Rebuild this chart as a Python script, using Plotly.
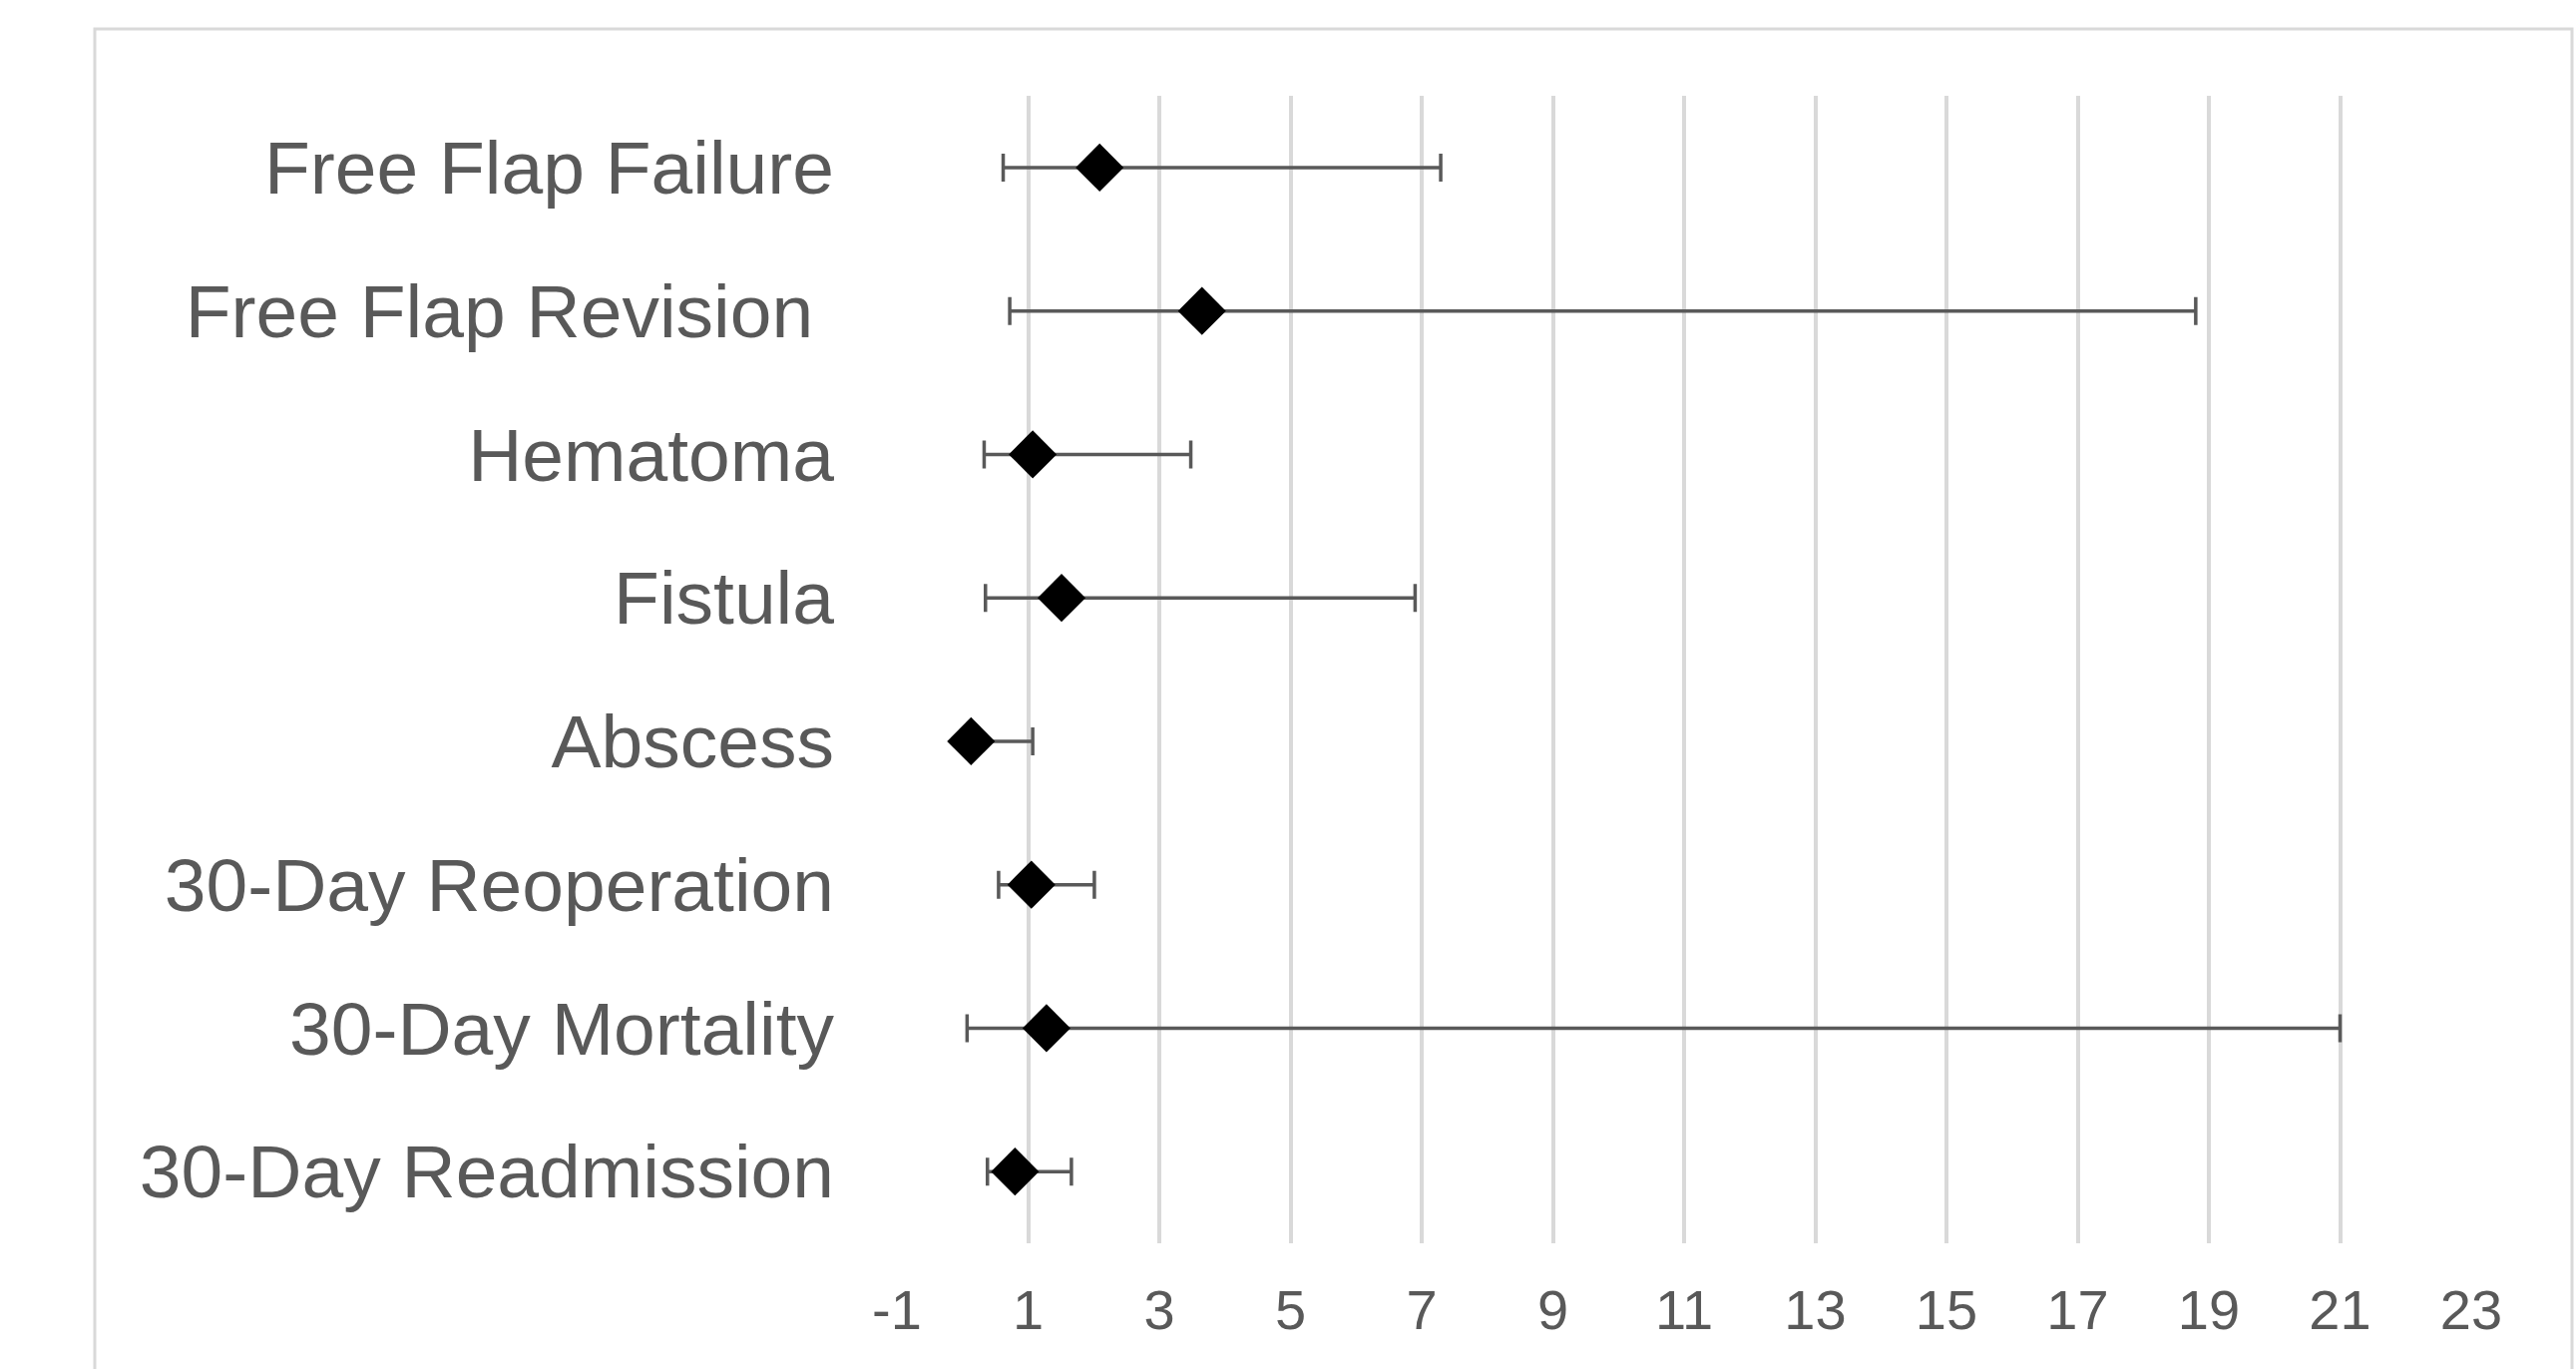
import plotly.graph_objects as go

categories = ["Free Flap Failure", "Free Flap Revision\u00a0", "Hematoma", "Fistula",
              "Abscess", "30-Day Reoperation", "30-Day Mortality", "30-Day Readmission"]
odds_ratio = [2.09, 3.65, 1.07, 1.51, 0.13, 1.05, 1.28, 0.80]
ci_lower = [0.62, 0.72, 0.33, 0.35, 0.05, 0.55, 0.07, 0.38]
ci_upper = [7.29, 18.8, 3.48, 6.90, 1.07, 2.01, 21.0, 1.66]
x_ticks = list(range(-1, 24, 2))

err_plus = [u - o for u, o in zip(ci_upper, odds_ratio)]
err_minus = [o - l for o, l in zip(odds_ratio, ci_lower)]

W, H = 2582, 1372
L, R, T, B = 899, 2477, 96, 1246

fig = go.Figure()
fig.add_trace(go.Scatter(
    x=odds_ratio, y=categories, mode="markers",
    marker=dict(symbol="diamond", size=37, color="black", line=dict(width=0)),
    error_x=dict(type="data", symmetric=False, array=err_plus, arrayminus=err_minus,
                 color="#595959", thickness=3.5, width=14),
    showlegend=False,
))

def px_x(p):
    return (p - L) / (R - L)

def px_y(p):
    return (B - p) / (B - T)

fig.add_shape(type="rect", xref="paper", yref="paper",
              x0=px_x(95), x1=px_x(2578), y0=px_y(1400), y1=px_y(29),
              line=dict(color="#d9d9d9", width=3), fillcolor="rgba(0,0,0,0)", layer="below")

fig.update_layout(
    width=W, height=H,
    margin=dict(l=L, r=W - R, t=T, b=H - B, pad=0),
    paper_bgcolor="white", plot_bgcolor="white",
    font=dict(family="Liberation Sans, Arial, sans-serif", color="#595959"),
    xaxis=dict(range=[-1, 23], tickmode="array", tickvals=x_ticks,
               ticktext=[str(v) for v in x_ticks],
               showgrid=True, gridcolor="#d9d9d9", gridwidth=3.5,
               zeroline=False, showline=False, ticks="",
               tickfont=dict(size=56, color="#595959"), ticklabelstandoff=29),
    yaxis=dict(type="category", categoryorder="array", categoryarray=categories,
               range=[len(categories) - 0.5, -0.5], showgrid=False, zeroline=False,
               showline=False, ticks="", tickfont=dict(size=75, color="#595959"),
               ticklabelstandoff=62),
)

fig.write_html("out.html",
               config={"displayModeBar": False},
               post_script="document.body.style.margin='0';document.body.style.overflow='hidden';")
